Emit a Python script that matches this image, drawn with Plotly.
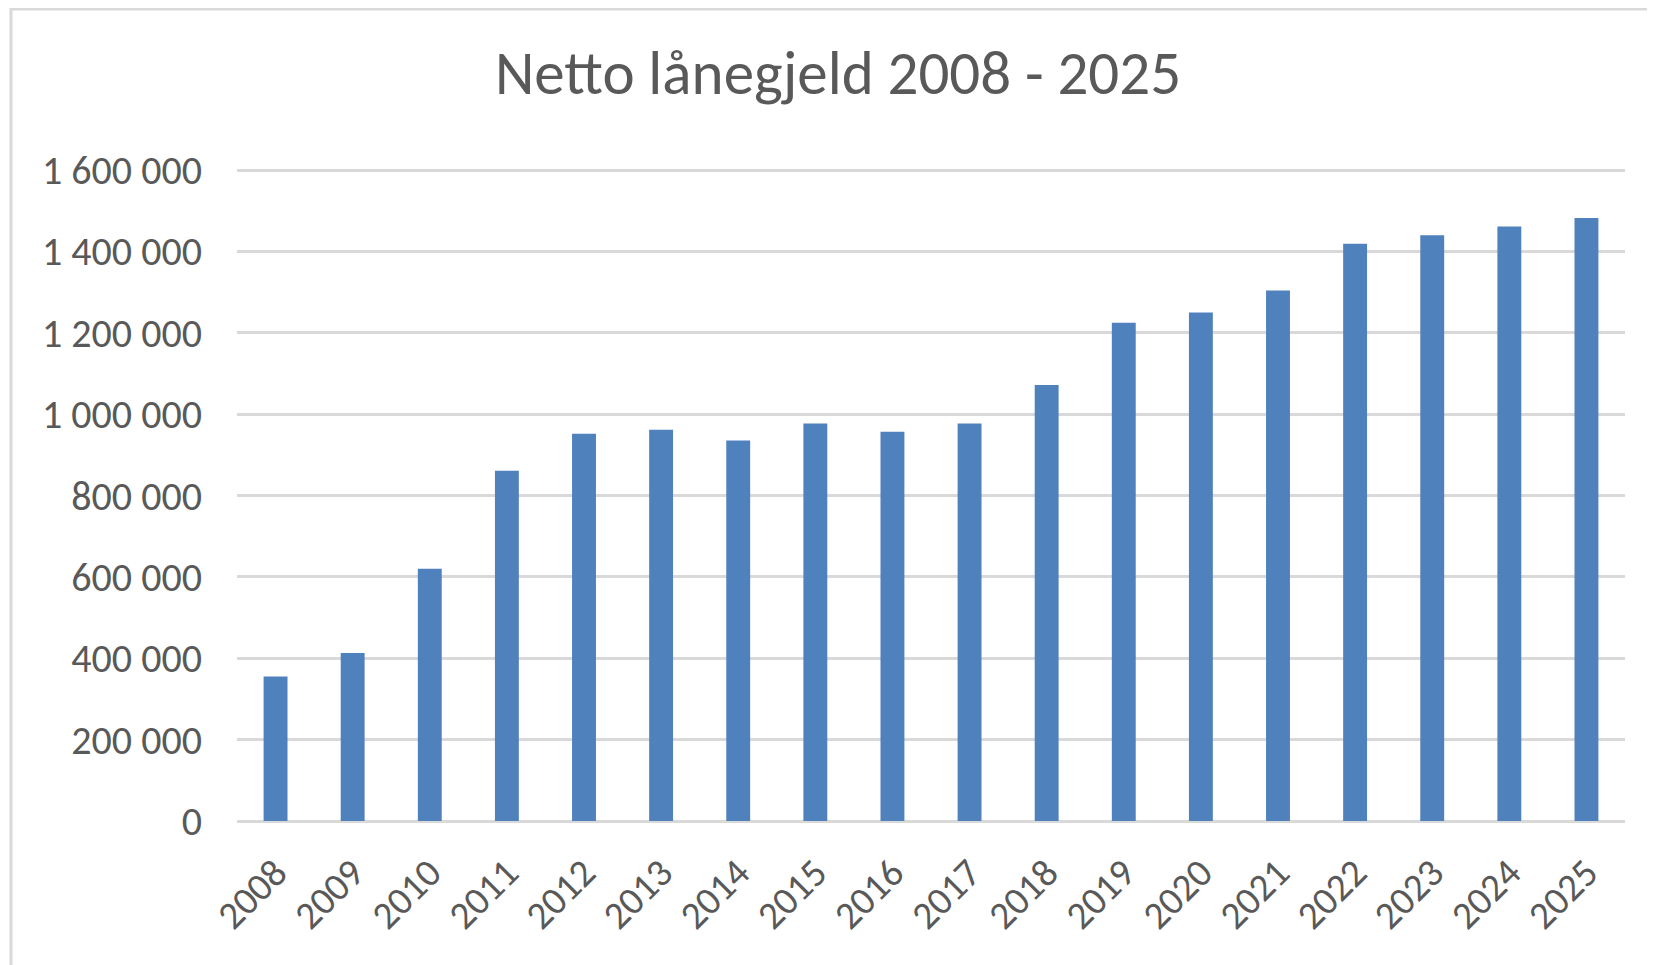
import plotly.graph_objects as go

years = [str(y) for y in range(2008, 2026)]
netto_laanegjeld = [
    355000, 413000, 620000, 861000, 952000, 962000, 935000, 977000, 957000,
    977000, 1072000, 1225000, 1250000, 1304000, 1419000, 1440000, 1461000, 1482000,
]

y_ticks = list(range(0, 1600001, 200000))

FONT = "Calibri, Carlito, Lato, sans-serif"
GREY_TEXT = "#595959"
GRID = "#d9d9d9"

# the page body adds an 8px margin, so the figure is a bit smaller than the window
W, H = 1647, 957
Y_MAX = 1610000  # a little headroom so the 1 600 000 gridline is drawn
T, B, L, R = 158, 144, 229, 30

fig = go.Figure(
    go.Bar(
        x=years,
        y=netto_laanegjeld,
        marker=dict(color="#4f81bd", line=dict(width=0)),
        name="Netto lånegjeld",
    )
)

fig.update_layout(
    width=W,
    height=H,
    template="plotly_white",
    paper_bgcolor="white",
    plot_bgcolor="white",
    separators=", ",
    showlegend=False,
    bargap=0.69,
    margin=dict(l=L, r=R, t=T, b=B),
    font=dict(family=FONT, color=GREY_TEXT),
    title=dict(
        text="Netto lånegjeld 2008 - 2025",
        font=dict(family=FONT, size=61, color=GREY_TEXT),
        x=830 / W,
        xanchor="center",
        xref="container",
        y=1 - 65 / H,
        yanchor="middle",
        yref="container",
    ),
)

fig.update_yaxes(
    range=[0, Y_MAX],
    tickvals=y_ticks,
    tickformat=",d",
    showgrid=True,
    gridcolor=GRID,
    gridwidth=2.5,
    zeroline=True,
    zerolinecolor=GRID,
    zerolinewidth=2.5,
    showline=False,
    ticks="",
    ticklabelstandoff=34,
    tickfont=dict(family=FONT, size=40, color=GREY_TEXT),
)

fig.update_xaxes(
    type="category",
    tickangle=-45,
    showgrid=False,
    showline=False,
    ticks="",
    ticklabelstandoff=20,
    tickfont=dict(family=FONT, size=39, color=GREY_TEXT),
)

# light grey chart frame (only left and top edges fall inside the window)
plot_h = H - T - B
plot_w = W - L - R
fig.add_shape(
    type="rect",
    xref="paper",
    yref="paper",
    x0=(3 - L) / plot_w,
    x1=1.2,
    y0=-0.5,
    y1=(H - B - 1) / plot_h,
    line=dict(color=GRID, width=3),
    fillcolor="rgba(0,0,0,0)",
    layer="below",
)

fig.write_html("out.html")
